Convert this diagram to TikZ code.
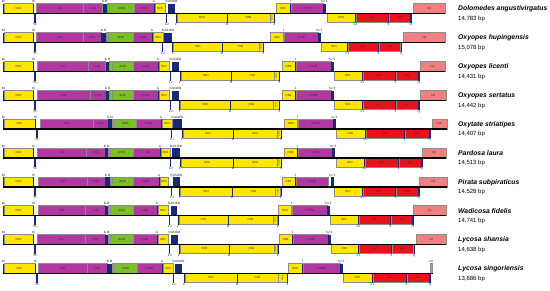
\documentclass[tikz,border=0pt]{standalone}
\usepackage{fontspec}
\setmainfont{Liberation Serif}
\setsansfont{Liberation Sans}
\definecolor{gY}{RGB}{255,230,0}
\definecolor{gM}{RGB}{178,55,160}
\definecolor{gG}{RGB}{122,190,40}
\definecolor{gR}{RGB}{232,18,28}
\definecolor{gS}{RGB}{242,128,128}
\definecolor{gN}{RGB}{22,42,120}
\pgfkeys{/gm/.is family,/gm,
 y/.store in=\gy, nd2e/.store in=\gWa, coi/.store in=\gCOI, coii/.store in=\gCOII,
 kd/.store in=\gKD, atp/.store in=\gATP, co3/.store in=\gCOIII, nd3/.store in=\gNDthree,
 nd3e/.store in=\gNDthreeE, box/.store in=\gBox, boxe/.store in=\gBoxE, nd5/.store in=\gNDfive,
 nd4/.store in=\gNDfour, nd4l/.store in=\gNDfourL, p/.store in=\gP, nd6/.store in=\gNDsix,
 cytb/.store in=\gCYTB, cytbe/.store in=\gCYTBE, s2/.store in=\gStwo, nd1/.store in=\gNDone,
 l1/.store in=\gLone, v/.store in=\gV, q/.store in=\gQ, cr/.store in=\gCR, cre/.store in=\gCRE,
 crup/.store in=\gCRup, name/.store in=\gname, bp/.store in=\gbp}
\tikzset{
 glab/.style={font=\fontsize{3}{3}\selectfont, inner sep=0pt, text=black!85},
 tlab/.style={font=\fontsize{3.2}{3.2}\selectfont, inner sep=0pt},
 gbox/.style={draw=black!45, line width=0.15pt},
 spname/.style={font=\sffamily\bfseries\itshape\fontsize{6.8}{8}\selectfont, anchor=west, inner sep=0pt},
 spbp/.style={font=\sffamily\fontsize{6}{7}\selectfont, anchor=west, inner sep=0pt},
 axisline/.style={line width=1.2pt, black}
}
\newcommand\upbox[4]{\path[gbox,fill=#1] ({#2},{\gy-10}) rectangle ({#3},{\gy}); \node[glab] at ({(#2+#3)/2},{\gy-5}) {#4};}
\newcommand\dnbox[4]{\path[gbox,fill=#1] ({#2},{\gy}) rectangle ({#3},{\gy+9}); \node[glab] at ({(#2+#3)/2},{\gy+4.5}) {#4};}
\newcommand\uptrna[3]{\fill[gN] ({#1},{\gy-10}) rectangle ({#2},{\gy}); \node[tlab,anchor=south] at ({(#1+#2)/2},{\gy-10.4}) {#3};}
\newcommand\dntrna[3]{\fill[gN] ({#1},{\gy}) rectangle ({#2},{\gy+9}); \node[tlab,anchor=north] at ({(#1+#2)/2},{\gy+9.4}) {#3};}
\newcommand\gmrow[1]{\pgfkeys{/gm,cytbe=-1,crup=0,#1}\ifdim\gCYTBE pt<0pt \let\gCYTBE\gStwo\fi\gmdraw}
\newcommand\gmdraw{%
 \upbox{gY}{4}{\gWa}{ND2}
 \uptrna{2.6}{3.9}{M}
 \uptrna{\gWa}{\gWa+1.1}{W}
 \dntrna{\gWa+1.3}{\gWa+3.3}{YC}
 \upbox{gM}{\gCOI}{\gCOII}{COI}
 \upbox{gM}{\gCOII}{\gKD}{COII}
 \uptrna{\gKD}{\gATP}{K D}
 \upbox{gG}{\gATP}{\gATP+2.5}{}
 \upbox{gG}{\gATP+2.5}{\gCOIII}{ATP6}
 \upbox{gM}{\gCOIII}{\gNDthree-1.4}{COIII}
 \uptrna{\gNDthree-1.4}{\gNDthree-0.4}{G}
 \upbox{gY}{\gNDthree}{\gNDthreeE}{ND3}
 \uptrna{\gBox}{\gBoxE}{NAS1ER}
 \dntrna{\gBox-1.6}{\gBox-0.6}{L2}
 \dntrna{\gNDfive-1.2}{\gNDfive-0.3}{F}
 \dnbox{gY}{\gNDfive}{\gNDfour}{ND5}
 \dnbox{gY}{\gNDfour}{\gNDfourL}{ND4}
 \dntrna{\gNDfour-0.4}{\gNDfour+0.5}{H}
 \path[gbox,fill=gY] ({\gNDfourL},{\gy}) rectangle ({\gP},{\gy+9});
 \node[glab,rotate=90,font=\fontsize{2}{2}\selectfont] at ({(\gNDfourL+\gP)/2},{\gy+4.5}) {ND4L};
 \dntrna{\gP}{\gP+1}{P}
 \upbox{gY}{\gNDsix}{\gCYTB}{ND6}
 \uptrna{\gCYTB}{\gCYTB+0.8}{I}
 \upbox{gM}{\gCYTB+0.8}{\gCYTBE}{CYTB}
 \uptrna{\gStwo}{\gStwo+2.6}{S2 T}
 \dnbox{gY}{\gNDone}{\gLone}{ND1}
 \dntrna{\gLone}{\gLone+0.9}{L1}
 \dnbox{gR}{\gLone+0.9}{\gV}{rrnL}
 \dntrna{\gV}{\gV+0.9}{V}
 \dnbox{gR}{\gV+0.9}{\gQ}{rrnS}
 \dntrna{\gQ}{\gQ+1.6}{Q}
 \ifdim\gCRup pt>0pt
   \path[gbox,fill=gS] ({\gCR},{\gy-10}) rectangle ({\gCRE},{\gy});
   \node[glab,anchor=south] at ({(\gCR+\gCRE)/2},{\gy-10.4}) {CR};
 \else
   \upbox{gS}{\gCR}{\gCRE}{CR}
 \fi
 \draw[axisline] (2.6,\gy) -- (\gCRE,\gy);
 \node[spname] at (458,{\gy-4.5}) {\gname};
 \node[spbp] at (458,{\gy+5}) {\gbp};
}
\begin{document}
\begin{tikzpicture}[x=1pt,y=-1pt]
\useasboundingbox (0,0) rectangle (550,290);
\gmrow{y=13.5, nd2e=33, coi=36.5, coii=83, kd=102.5, atp=107, co3=134, nd3=155, nd3e=165, box=168, boxe=175, nd5=177, nd4=227, nd4l=270, p=274, nd6=276, cytb=290, s2=323, nd1=327.5, l1=355, v=388, q=410, cr=413, cre=445, name=Dolomedes angustivirgatus, bp={14,783 bp}}
\gmrow{y=42.5, nd2e=33, coi=36.5, coii=83, kd=101, atp=106, co3=133, nd3=153, nd3e=163, box=164, boxe=172, nd5=173.5, nd4=222, nd4l=259, p=263, nd6=270, cytb=283.5, s2=318, nd1=321, l1=347, v=378, q=400.5, cr=403, cre=445, name=Oxyopes hupingensis, bp={15,078 bp}}
\gmrow{y=71.5, nd2e=33, coi=37, coii=88, kd=105.5, atp=109.5, co3=133, nd3=159, nd3e=169, box=172, boxe=179, nd5=181, nd4=231, nd4l=274, p=279, nd6=282, cytb=295, s2=331, nd1=334, l1=362, v=395, q=418, cr=420, cre=445, name=Oxyopes licenti, bp={14,431 bp}}
\gmrow{y=100.5, nd2e=33, coi=37, coii=90, kd=106, atp=109.5, co3=133, nd3=159, nd3e=169, box=172, boxe=179, nd5=180.5, nd4=230, nd4l=273, p=279, nd6=282, cytb=295, s2=331, nd1=334, l1=362, v=395, q=418, cr=420, cre=446, name=Oxyopes sertatus, bp={14,442 bp}}
\gmrow{y=129, nd2e=35, coi=40, coii=93, kd=108, atp=112, co3=136, nd3=162, nd3e=172, box=173, boxe=182, nd5=183, nd4=233, nd4l=277, p=281, nd6=284, cytb=297.5, s2=333, nd1=336, l1=365, v=404, q=429, cr=432, cre=447, name=Oxytate striatipes, bp={14,407 bp}}
\gmrow{y=158, nd2e=33, coi=37, coii=86, kd=105, atp=108, co3=133, nd3=161, nd3e=170, box=172, boxe=180, nd5=181, nd4=233, nd4l=277, p=281, nd6=284, cytb=297, s2=332, nd1=336, l1=364, v=398, q=421, cr=422.5, cre=446, name=Pardosa laura, bp={14,513 bp}}
\gmrow{y=187, nd2e=33, coi=38, coii=87, kd=105, atp=110, co3=133, nd3=160, nd3e=168, box=173, boxe=180, nd5=180.5, nd4=232, nd4l=275, p=280.5, nd6=282, cytb=295, cytbe=328, s2=331, nd1=334, l1=362, v=395, q=418, cr=419, cre=447, name=Pirata subpiraticus, bp={14,528 bp}}
\gmrow{y=215.5, nd2e=33, coi=38, coii=85, kd=105, atp=108, co3=133, nd3=158, nd3e=168, box=171, boxe=177, nd5=179, nd4=228, nd4l=273, p=277.5, nd6=278.5, cytb=291.5, s2=327, nd1=330, l1=358, v=390, q=412, cr=413, cre=446, name=Wadicosa fidelis, bp={14,741 bp}}
\gmrow{y=244.5, nd2e=33, coi=37, coii=85, kd=105, atp=108, co3=133, nd3=158, nd3e=168, box=171, boxe=178, nd5=180, nd4=229, nd4l=274, p=277.5, nd6=279, cytb=292, s2=328, nd1=331, l1=358, v=391, q=413.5, cr=416, cre=446, name=Lycosa shansia, bp={14,638 bp}}
\gmrow{y=273.5, nd2e=35, coi=38, coii=87, kd=107, atp=112, co3=137, nd3=163, nd3e=173, box=175, boxe=182, nd5=185, nd4=237, nd4l=278, p=287, nd6=288, cytb=302, s2=340, nd1=343, l1=372, v=406, q=429, cr=430, cre=432.5, crup=1, name=Lycosa singoriensis, bp={13,686 bp}}
\end{tikzpicture}
\end{document}
